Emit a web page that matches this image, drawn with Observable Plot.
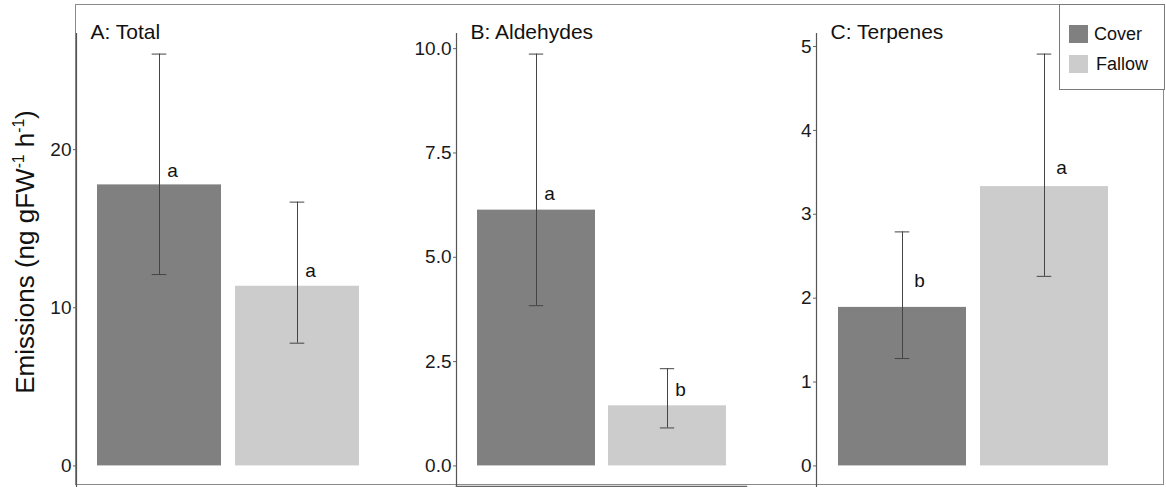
<!DOCTYPE html>
<html><head><meta charset="utf-8">
<script src="https://cdn.jsdelivr.net/npm/d3@7"></script>
<script src="https://cdn.jsdelivr.net/npm/@observablehq/plot@0.6"></script>
<style>
body{margin:0;background:#fff;font-family:"Liberation Sans",Arial,Helvetica,sans-serif;}
#wrap{position:relative;width:1166px;height:487px;overflow:hidden;background:#fff;}
#wrap svg{position:absolute;top:0;}
#box{position:absolute;left:75px;top:4px;width:1089px;height:481px;border:1.5px solid #8a8a8a;box-sizing:border-box;}
#ytitle{position:absolute;left:25px;top:252px;transform:translate(-50%,-50%) rotate(-90deg);white-space:nowrap;font-size:26px;color:#111;}
#ytitle sup{font-size:0.6em;vertical-align:0.6em;line-height:0;}
#legend{position:absolute;left:1059px;top:4px;width:106px;height:86px;border:1.5px solid #7a7a7a;box-sizing:border-box;background:#fff;z-index:5;}
.key{position:absolute;width:19px;height:18px;}
.lab{position:absolute;font-size:18px;color:#111;line-height:18px;}
</style></head><body><div id="wrap"><div id="box"></div></div>
<script>
// ---- data ----
const treatments = ["Cover", "Fallow"];
const colors = ["#808080", "#cccccc"];
const panelTitles = ["A: Total", "B: Aldehydes", "C: Terpenes"];

const totalMean = [17.77, 11.36];
const totalLow = [12.1, 7.76];
const totalHigh = [26.04, 16.68];
const totalLetters = ["a", "a"];
const totalLetterY = [18.68, 12.3];
const totalTicks = [0, 10, 20];

const aldMean = [6.13, 1.44];
const aldLow = [3.84, 0.91];
const aldHigh = [9.87, 2.33];
const aldLetters = ["a", "b"];
const aldLetterY = [6.51, 1.81];
const aldTicks = [0, 2.5, 5, 7.5, 10];

const terpMean = [1.89, 3.33];
const terpLow = [1.28, 2.26];
const terpHigh = [2.79, 4.91];
const terpLetters = ["b", "a"];
const terpLetterY = [2.2, 3.55];
const terpTicks = [0, 1, 2, 3, 4, 5];

// ---- layout ----
const panels = [
  {title: panelTitles[0], mean: totalMean, low: totalLow, high: totalHigh, letters: totalLetters, ly: totalLetterY, ticks: totalTicks, fmt: d3.format("d"), left: 76, right: 380, ml: 45, ldx: 13, bottomLine: false},
  {title: panelTitles[1], mean: aldMean, low: aldLow, high: aldHigh, letters: aldLetters, ly: aldLetterY, ticks: aldTicks, fmt: d3.format(".1f"), left: 456, right: 746, ml: 50, ldx: 13, bottomLine: true},
  {title: panelTitles[2], mean: terpMean, low: terpLow, high: terpHigh, letters: terpLetters, ly: terpLetterY, ticks: terpTicks, fmt: d3.format("d"), left: 816, right: 1130, ml: 40, ldx: 17, bottomLine: false}
];

const wrap = document.getElementById("wrap");
const font = "'Liberation Sans', Arial, Helvetica, sans-serif";

panels.forEach((p, idx) => {
  const rows = treatments.map((t, i) => ({t, mean: p.mean[i], low: p.low[i], high: p.high[i], letter: p.letters[i], ly: p.ly[i]}));
  const ymax = d3.max(p.high);
  const w = p.right - p.left;
  const step = w / 2.2;
  const bw = 0.9 * step;
  const cap = (bw - 15) / 2;
  const marks = [
    Plot.barY(rows, {x: "t", y: "mean", fill: "t"}),
    Plot.ruleX(rows, {x: "t", y1: "low", y2: "high", stroke: "#444", strokeWidth: 1}),
    Plot.tickY(rows, {x: "t", y: "low", stroke: "#444", strokeWidth: 1, insetLeft: cap, insetRight: cap}),
    Plot.tickY(rows, {x: "t", y: "high", stroke: "#444", strokeWidth: 1, insetLeft: cap, insetRight: cap}),
    Plot.text(rows, {x: "t", y: "ly", text: "letter", dx: p.ldx, fontSize: 19, fill: "#111"}),
    Plot.axisY({ticks: p.ticks, tickFormat: p.fmt, tickSize: 3, tickPadding: 2, fontSize: 19, color: "#1a1a1a", stroke: "#666", label: null}),
    Plot.frame({anchor: "left", stroke: "#555", strokeWidth: 1.2}),
    Plot.text([p.title], {frameAnchor: "top-left", text: d => d, dx: 14, dy: -9, lineAnchor: "top", textAnchor: "start", fontSize: 21, fill: "#111"})
  ];
  if (p.bottomLine) marks.push(Plot.frame({anchor: "bottom", stroke: "#666", strokeWidth: 1.5}));
  const svg = Plot.plot({
    width: p.ml + w,
    height: 487,
    marginLeft: p.ml,
    marginRight: 0,
    marginTop: 33,
    marginBottom: 1,
    style: {background: "transparent", fontFamily: font, overflow: "visible"},
    x: {domain: treatments, paddingInner: 0.1, paddingOuter: 0.15, axis: null},
    y: {domain: [-0.05 * ymax, 1.05 * ymax], axis: null},
    color: {domain: treatments, range: colors},
    marks
  });
  svg.style.left = (p.left - p.ml) + "px";
  wrap.appendChild(svg);
});

// y title
const yt = document.createElement("div");
yt.id = "ytitle";
yt.innerHTML = "Emissions (ng gFW<sup>-1</sup> h<sup>-1</sup>)";
wrap.appendChild(yt);

// legend
const lg = document.createElement("div");
lg.id = "legend";
treatments.forEach((t, i) => {
  const k = document.createElement("div");
  k.className = "key";
  k.style.left = "9px";
  k.style.top = (20 + i * 30) + "px";
  k.style.background = colors[i];
  lg.appendChild(k);
  const l = document.createElement("div");
  l.className = "lab";
  l.style.left = (34 + i * 2) + "px";
  l.style.top = (20 + i * 30) + "px";
  l.textContent = t;
  lg.appendChild(l);
});
wrap.appendChild(lg);
</script></body></html>
